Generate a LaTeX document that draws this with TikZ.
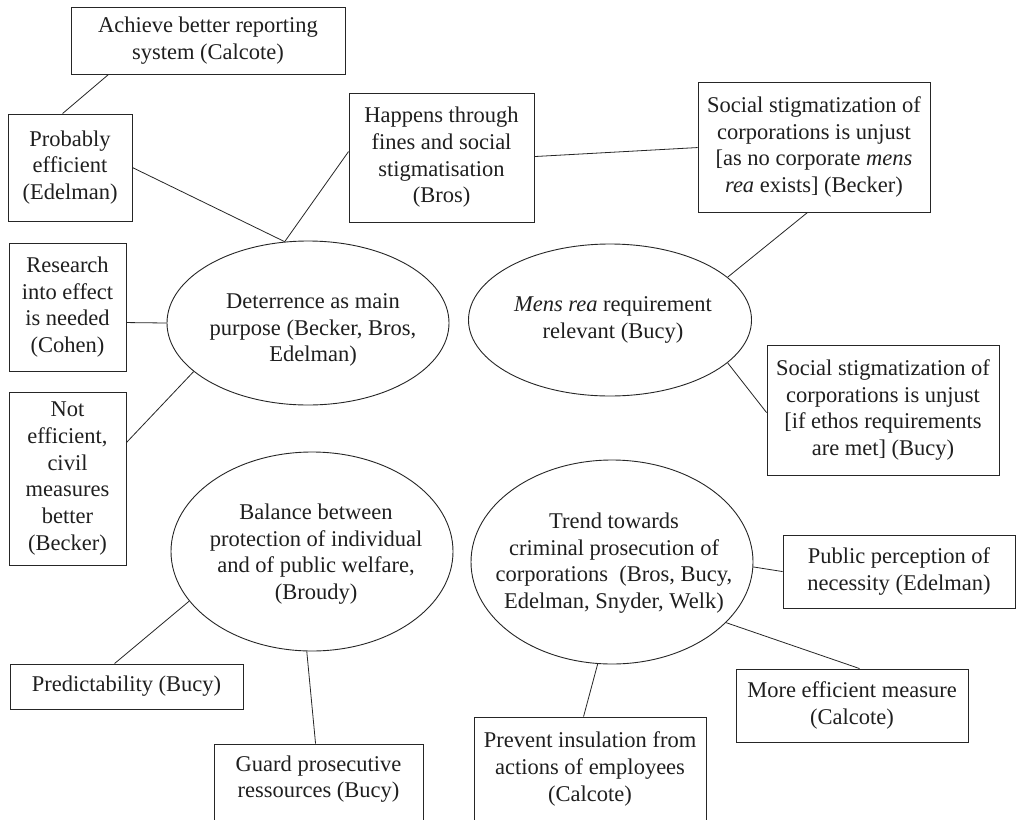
\documentclass[tikz,border=0pt]{standalone}
\usepackage{fontspec}
\setmainfont{Liberation Serif}
\usetikzlibrary{shapes.geometric,calc}
\tikzset{
  txt/.style={font=\fontsize{22.5}{26.7}\selectfont, text=black!88, align=center, inner sep=0pt},
  boxnode/.style={txt, draw=black!85, line width=0.9pt, rectangle},
  ellnode/.style={draw=black!85, line width=0.9pt, ellipse, inner sep=0pt},
  conn/.style={draw=black!85, line width=0.8pt}
}
\begin{document}
\begin{tikzpicture}[x=1pt,y=-1pt]
\useasboundingbox (0,0) rectangle (1016,819);
\fill[white] (0,0) rectangle (1016,819);
\clip (0,0) rectangle (1016,819);

% boxes
\node[boxnode, minimum width=274pt, minimum height=67pt] (ach) at (208,40.5) {Achieve better reporting\\system (Calcote)};
\node[boxnode, minimum width=124pt, minimum height=107pt] (prob) at (70,167.5) {Probably\\efficient\\(Edelman)};
\node[boxnode, minimum width=185pt, minimum height=129pt] (hap) at (441.5,157.5) {Happens through\\fines and social\\stigmatisation\\(Bros)};
\node[boxnode, minimum width=232pt, minimum height=130pt] (beck) at (814,147) {Social stigmatization of\\corporations is unjust\\{[}as no corporate \textit{mens}\\\textit{rea} exists] (Becker)};
\node[boxnode, minimum width=117pt, minimum height=128pt] (res) at (67.5,307) {Research\\into effect\\is needed\\(Cohen)};
\node[boxnode, minimum width=117pt, minimum height=173pt] (noteff) at (67.5,478.5) {Not\\efficient,\\civil\\measures\\better\\(Becker)};
\node[boxnode, minimum width=232pt, minimum height=130pt] (ethos) at (883,410) {Social stigmatization of\\corporations is unjust\\{[}if ethos requirements\\are met] (Bucy)};
\node[boxnode, minimum width=233pt, minimum height=45pt] (pred) at (126.5,686.5) {Predictability (Bucy)};
\node[boxnode, minimum width=209pt, minimum height=92pt] (guard) at (318.5,790) {Guard prosecutive\\ressources (Bucy)\\\mbox{}};
\node[boxnode, minimum width=232pt, minimum height=73pt] (public) at (899,571.5) {Public perception of\\necessity (Edelman)};
\node[boxnode, minimum width=232pt, minimum height=73pt] (more) at (852,705.5) {More efficient measure\\(Calcote)};
\node[boxnode, minimum width=232pt, minimum height=126pt] (prev) at (590,780) {Prevent insulation from\\actions of employees\\(Calcote)\\\mbox{}};

% ellipses
\node[ellnode, minimum width=282pt, minimum height=164pt] (det) at (308,323) {};
\node[txt] (dett) at (313,330) {Deterrence as main\\purpose (Becker, Bros,\\Edelman)};
\node[ellnode, minimum width=283pt, minimum height=152pt] (mens) at (610,320) {};
\node[txt] (menst) at (613,320) {\textit{Mens rea} requirement\\relevant (Bucy)};
\node[ellnode, minimum width=282pt, minimum height=199pt] (bal) at (312,551.5) {};
\node[txt] (balt) at (316,554) {Balance between\\protection of individual\\and of public welfare,\\(Broudy)};
\node[ellnode, minimum width=282pt, minimum height=204pt] (trend) at (612,562) {};
\node[txt] (trendt) at (614,563) {Trend towards\\criminal prosecution of\\corporations~ (Bros, Bucy,\\Edelman, Snyder, Welk)};

% connectors
\draw[conn] ($(ach.south west)+(38,0)$) -- ($(prob.north west)+(55,0)$);
\draw[conn] ($(prob.north east)+(0,54)$) -- (det.106.3);
\draw[conn] ($(hap.north west)+(0,59)$) -- (det.106.3);
\draw[conn] ($(hap.north east)+(0,64)$) -- ($(beck.north west)+(0,66)$);
\draw[conn] ($(res.north east)+(0,80)$) -- (det.west);
\draw[conn] ($(noteff.north east)+(0,51)$) -- (det.203.9);
\draw[conn] ($(beck.south west)+(110,0)$) -- (mens.20.4);
\draw[conn] (mens.340.4) -- ($(ethos.north west)+(0,68)$);
\draw[conn] (bal.202) -- ($(pred.north west)+(105,0)$);
\draw[conn] (bal.267) -- ($(guard.north west)+(102,0)$);
\draw[conn] (trend.358) -- ($(public.north west)+(0,37)$);
\draw[conn] (trend.332.4) -- ($(more.north west)+(124,0)$);
\draw[conn] (trend.262.7) -- ($(prev.north west)+(110,0)$);
\end{tikzpicture}
\end{document}
